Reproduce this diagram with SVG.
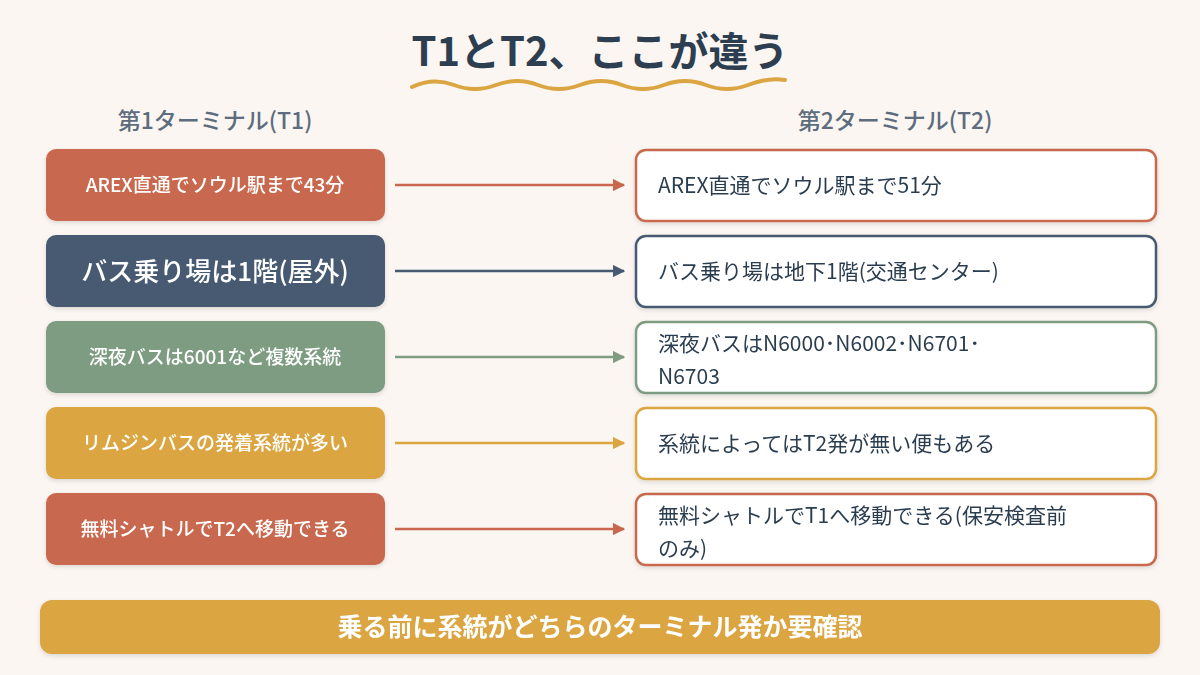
<svg xmlns="http://www.w3.org/2000/svg" width="1200" height="675" viewBox="0 0 1200 675">
<defs>
<style>
text{font-family:"Noto Sans CJK JP","Noto Sans",sans-serif}
.l{fill:#fff;font-size:19px;font-weight:500;text-anchor:middle}
.big{font-size:26px}
.r{fill:#2c3e50;font-size:21px}
.rb{fill:#fff;stroke-width:2.5}
.h{fill:#5d6d7e;font-size:23px;font-weight:500;text-anchor:middle}
</style>
<filter id="sh" x="-5%" y="-5%" width="110%" height="120%"><feDropShadow dx="0" dy="2" stdDeviation="2" flood-color="#000" flood-opacity="0.12"/></filter>
<marker id="m1" viewBox="0 0 10 10" refX="9" refY="5" markerWidth="5" markerHeight="5" orient="auto"><path d="M0,0L10,5L0,10z" fill="#C8694F"/></marker>
<marker id="m2" viewBox="0 0 10 10" refX="9" refY="5" markerWidth="5" markerHeight="5" orient="auto"><path d="M0,0L10,5L0,10z" fill="#465A72"/></marker>
<marker id="m3" viewBox="0 0 10 10" refX="9" refY="5" markerWidth="5" markerHeight="5" orient="auto"><path d="M0,0L10,5L0,10z" fill="#7E9C82"/></marker>
<marker id="m4" viewBox="0 0 10 10" refX="9" refY="5" markerWidth="5" markerHeight="5" orient="auto"><path d="M0,0L10,5L0,10z" fill="#DBA542"/></marker>
</defs>
<rect width="1200" height="675" fill="#FBF6F1"/>
<text x="600" y="66" font-size="40" font-weight="bold" fill="#2c3e50" text-anchor="middle">T1とT2、ここが違う</text>
<path d="M412,87 Q433,77 454,85 T496,85 T538,85 T580,85 T622,85 T664,85 T706,85 T748,85 T785,80" fill="none" stroke="#DBA542" stroke-width="4" stroke-linecap="round"/>
<text class="h" x="215" y="129">第1ターミナル(T1)</text>
<text class="h" x="895" y="129">第2ターミナル(T2)</text>
<g id="n1" filter="url(#sh)"><rect x="46" y="149" width="339" height="72" rx="10" fill="#C8694F"/><text class="l" x="215" y="192">AREX直通でソウル駅まで43分</text></g>
<g id="n2" filter="url(#sh)"><rect x="46" y="235" width="339" height="72" rx="10" fill="#465A72"/><text class="l big" x="215" y="281">バス乗り場は1階(屋外)</text></g>
<g id="n3" filter="url(#sh)"><rect x="46" y="321" width="339" height="72" rx="10" fill="#7E9C82"/><text class="l" x="215" y="364">深夜バスは6001など複数系統</text></g>
<g id="n4" filter="url(#sh)"><rect x="46" y="407" width="339" height="72" rx="10" fill="#DBA542"/><text class="l" x="215" y="450">リムジンバスの発着系統が多い</text></g>
<g id="n5" filter="url(#sh)"><rect x="46" y="493" width="339" height="72" rx="10" fill="#C8694F"/><text class="l" x="215" y="536">無料シャトルでT2へ移動できる</text></g>
<g id="r1" filter="url(#sh)"><rect class="rb" x="636" y="150" width="520" height="71" rx="10" stroke="#C8694F"/><text class="r" x="658" y="193">AREX直通でソウル駅まで51分</text></g>
<g id="r2" filter="url(#sh)"><rect class="rb" x="636" y="236" width="520" height="71" rx="10" stroke="#465A72"/><text class="r" x="658" y="279">バス乗り場は地下1階(交通センター)</text></g>
<g id="r3" filter="url(#sh)"><rect class="rb" x="636" y="322" width="520" height="71" rx="10" stroke="#7E9C82"/><text class="r" x="658" y="351">深夜バスはN6000･N6002･N6701･</text><text class="r" x="658" y="384">N6703</text></g>
<g id="r4" filter="url(#sh)"><rect class="rb" x="636" y="408" width="520" height="71" rx="10" stroke="#DBA542"/><text class="r" x="658" y="451">系統によってはT2発が無い便もある</text></g>
<g id="r5" filter="url(#sh)"><rect class="rb" x="636" y="494" width="520" height="71" rx="10" stroke="#C8694F"/><text class="r" x="658" y="523">無料シャトルでT1へ移動できる(保安検査前</text><text class="r" x="658" y="556">のみ)</text></g>
<g id="connectors" stroke-width="2.5" fill="none">
<line x1="395" y1="185" x2="624" y2="185" stroke="#C8694F" marker-end="url(#m1)"/>
<line x1="395" y1="271" x2="624" y2="271" stroke="#465A72" marker-end="url(#m2)"/>
<line x1="395" y1="357" x2="624" y2="357" stroke="#7E9C82" marker-end="url(#m3)"/>
<line x1="395" y1="443" x2="624" y2="443" stroke="#DBA542" marker-end="url(#m4)"/>
<line x1="395" y1="529" x2="624" y2="529" stroke="#C8694F" marker-end="url(#m1)"/>
</g>
<g id="banner" filter="url(#sh)"><rect x="40" y="600" width="1120" height="54" rx="12" fill="#DBA542"/><text x="600" y="636" font-size="25" font-weight="bold" fill="#fff" text-anchor="middle">乗る前に系統がどちらのターミナル発か要確認</text></g>
</svg>
